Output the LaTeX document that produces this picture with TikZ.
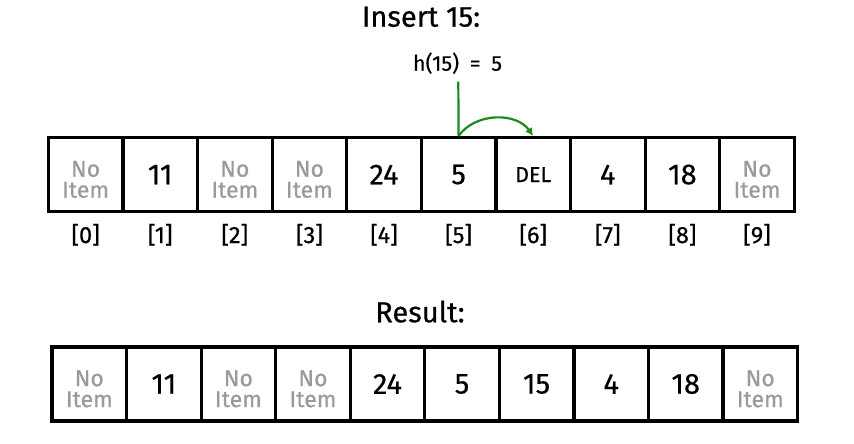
\documentclass[tikz,border=0pt]{standalone}
\usepackage{fontspec}
\setmainfont{Fira Sans}[FakeBold=0.5]
\usetikzlibrary{arrows.meta}
\definecolor{leer}{HTML}{9A9A9A}
\definecolor{gruen}{HTML}{1A8A1A}
\newcommand{\leeritem}{No\\Item}
\begin{document}
\begin{tikzpicture}[x=1pt, y=-1pt,
    zelle/.style={draw, line width=3.2pt, minimum width=74.6pt, minimum height=74pt, inner sep=0pt},
    zahl/.style={zelle, font=\fontsize{29}{29}\selectfont},
    kein/.style={zelle, text=leer, align=center, text height=46.2pt, text depth=0pt, font=\fontsize{23}{21}\selectfont},
    del/.style={zelle, font=\fontsize{21.5}{21.5}\selectfont},
    index/.style={anchor=base, font=\fontsize{23.5}{23.5}\selectfont},
    titel/.style={anchor=base, font=\fontsize{29}{29}\selectfont}]
    \useasboundingbox (0,0) rectangle (854,444);
    \node[titel] (ins) at (421,26.7) {Insert 15:};
    \node[anchor=base, font=\fontsize{21.5}{21.5}\selectfont] (hash) at (457.5,70.7) {h(15)\hspace{5pt} = \hspace{5pt}5};
    % Tabelle vorher
    \foreach \v/\s [count=\i from 0] in {\leeritem/kein, 11/zahl, \leeritem/kein, \leeritem/kein, 24/zahl, 5/zahl, DEL/del, 4/zahl, 18/zahl, \leeritem/kein} {
        \node[\s] (a\i) at (85.6+74.6*\i,174.6) {\v};
        \node[index] (i\i) at (85.6+74.6*\i,243) {[\i]};
    }
    \coordinate (kopf) at (458.3,81.7);
    \draw[gruen, line width=2.2pt] (kopf) -- (a5.north);
    \draw[gruen, line width=2.2pt, -{Latex[length=8pt,width=8pt]}] (a5.north) to[bend left=55] (a6.north);
    % Tabelle nachher
    \node[titel] (res) at (420,322.3) {Result:};
    \foreach \v/\s [count=\i from 0] in {\leeritem/kein, 11/zahl, \leeritem/kein, \leeritem/kein, 24/zahl, 5/zahl, 15/zahl, 4/zahl, 18/zahl, \leeritem/kein} {
        \node[\s] (b\i) at (89.3+74.55*\i,384) {\v};
    }
\end{tikzpicture}
\end{document}
